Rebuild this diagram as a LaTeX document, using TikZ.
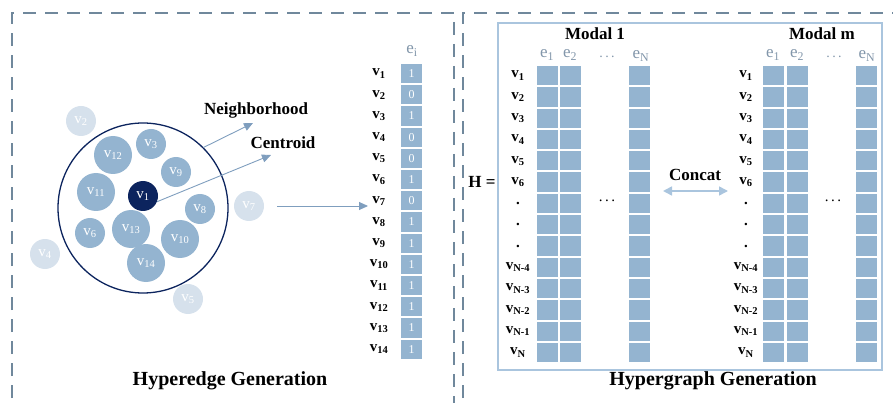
\documentclass[tikz,border=0pt]{standalone}
\usepackage{fontspec}
\setmainfont{Liberation Serif}
\usetikzlibrary{arrows.meta}
\definecolor{cellblue}{RGB}{148,180,208}
\definecolor{lightnode}{RGB}{214,225,236}
\definecolor{navy}{RGB}{12,36,94}
\definecolor{arrowblue}{RGB}{127,158,190}
\definecolor{dashgray}{RGB}{112,136,156}
\definecolor{boxblue}{RGB}{170,197,222}
\definecolor{headgray}{RGB}{130,150,170}
\begin{document}
\begin{tikzpicture}[x=1pt,y=-1pt,
  nd/.style={circle,inner sep=0pt,minimum size=30pt,fill=cellblue,text=white,font=\fontsize{15}{15}\selectfont},
  bignd/.style={nd,minimum size=38pt},
  lightnd/.style={nd,fill=lightnode},
  cell/.style={rectangle,fill=cellblue,minimum width=21pt,minimum height=19.3pt,inner sep=0pt,text=white,font=\fontsize{12}{12}\selectfont},
  vlab/.style={font=\fontsize{15}{15}\selectfont\bfseries,inner sep=0pt},
  ehead/.style={text=headgray,font=\fontsize{17}{17}\selectfont,inner sep=0pt},
  lbl/.style={font=\fontsize{17}{17}\selectfont\bfseries,inner sep=0pt},
  title/.style={font=\fontsize{20}{20}\selectfont\bfseries,inner sep=0pt},
  arr/.style={draw=arrowblue,line width=0.9pt,-{Triangle[length=9pt,width=8pt]}},
  dashbox/.style={draw=dashgray,line width=1.8pt,dash pattern=on 13pt off 9pt}
]
\useasboundingbox (0,0) rectangle (893,403);
% panels
\draw[dashbox] (12,420) -- (12,13) -- (454,13) -- (454,420);
\draw[dashbox] (463,420) -- (463,13) -- (905,13);
% big neighborhood circle
\node[circle,draw=navy,line width=1.3pt,minimum size=170pt,inner sep=0pt] (bigc) at (143,208) {};
% vertices
\node[lightnd] (v2) at (81,121) {v\textsubscript{2}};
\node[bignd] (v12) at (113,155) {v\textsubscript{12}};
\node[nd] (v3) at (151,144) {v\textsubscript{3}};
\node[nd] (v9) at (176,172) {v\textsubscript{9}};
\node[bignd] (v11) at (96,192) {v\textsubscript{11}};
\node[nd,fill=navy] (v1) at (143,196) {v\textsubscript{1}};
\node[nd] (v8) at (200,209) {v\textsubscript{8}};
\node[lightnd] (v7) at (249,206) {v\textsubscript{7}};
\node[nd] (v6) at (90,233) {v\textsubscript{6}};
\node[bignd] (v13) at (131,229) {v\textsubscript{13}};
\node[bignd] (v10) at (180,239) {v\textsubscript{10}};
\node[bignd] (v14) at (146,263) {v\textsubscript{14}};
\node[lightnd] (v4) at (45,254) {v\textsubscript{4}};
\node[lightnd] (v5) at (188,299) {v\textsubscript{5}};
% labels and arrows
\node[lbl] (nb) at (256,110) {Neighborhood};
\node[lbl] (ct) at (283,143) {Centroid};
\coordinate (nbend) at (253,123);
\coordinate (ctend) at (271,155);
\draw[arr] (bigc.45) -- (nbend);
\draw[arr] (v1.-22) -- (ctend);
\coordinate (hs) at (277,206);
\coordinate (he) at (368,206);
\draw[arr] (hs) -- (he);
% incidence column e_i
\node[ehead] (ei) at (412,51) {e\textsubscript{i}};
\foreach \val [count=\i] in {1,0,1,0,0,1,0,1,1,1,1,1,1,1} {
  \node[cell] (c\i) at (411.5,{73.6+21.2*(\i-1)}) {\val};
  \node[vlab] (l\i) at (379,{73.6+21.2*(\i-1)}) {v\textsubscript{\i}};
}
\node[title] (hg) at (230,381) {Hyperedge Generation};
% right panel
\draw[boxblue,line width=1.5pt] (498,23) rectangle (882,370);
\node[lbl] (H) at (482,182) {H =};
\node[lbl] (m1) at (595,34) {Modal 1};
\node[lbl] (mm) at (822,34) {Modal m};
% column headers
\node[ehead] (a1) at (547,55) {e\textsubscript{1}};
\node[ehead] (a2) at (570,55) {e\textsubscript{2}};
\node[ehead,font=\fontsize{14}{14}\selectfont] (ad) at (607,57) {.\,.\,.};
\node[ehead] (aN) at (641,56) {e\textsubscript{N}};
\node[ehead] (b1) at (773,55) {e\textsubscript{1}};
\node[ehead] (b2) at (797,55) {e\textsubscript{2}};
\node[ehead,font=\fontsize{14}{14}\selectfont] (bd) at (834,57) {.\,.\,.};
\node[ehead] (bN) at (867,56) {e\textsubscript{N}};
\foreach \lab [count=\i] in {{v\textsubscript{1}},{v\textsubscript{2}},{v\textsubscript{3}},{v\textsubscript{4}},{v\textsubscript{5}},{v\textsubscript{6}},{.},{.},{.},{v\textsubscript{N-4}},{v\textsubscript{N-3}},{v\textsubscript{N-2}},{v\textsubscript{N-1}},{v\textsubscript{N}}} {
  \node[vlab] (ra\i) at (518,{75.6+21.3*(\i-1)}) {\lab};
  \node[vlab] (rb\i) at (746,{75.6+21.3*(\i-1)}) {\lab};
  \node[cell] (pa\i) at (547,{75.6+21.3*(\i-1)}) {};
  \node[cell] (qa\i) at (570.5,{75.6+21.3*(\i-1)}) {};
  \node[cell] (sa\i) at (639.5,{75.6+21.3*(\i-1)}) {};
  \node[cell] (pb\i) at (773.5,{75.6+21.3*(\i-1)}) {};
  \node[cell] (qb\i) at (797.5,{75.6+21.3*(\i-1)}) {};
  \node[cell] (sb\i) at (866.5,{75.6+21.3*(\i-1)}) {};
}
\node[font=\fontsize{15}{15}\selectfont,inner sep=0pt] (da) at (607,201) {.\,.\,.};
\node[font=\fontsize{15}{15}\selectfont,inner sep=0pt] (db) at (833,201) {.\,.\,.};
% concat
\node[lbl] (cc) at (695,175) {Concat};
\coordinate (ca) at (663,191);
\coordinate (cb) at (728,191);
\draw[draw=boxblue,line width=1.6pt,{Triangle[length=9pt,width=9pt]}-{Triangle[length=9pt,width=9pt]}] (ca) -- (cb);
\node[title] (hyg) at (713,381) {Hypergraph Generation};
\end{tikzpicture}
\end{document}
